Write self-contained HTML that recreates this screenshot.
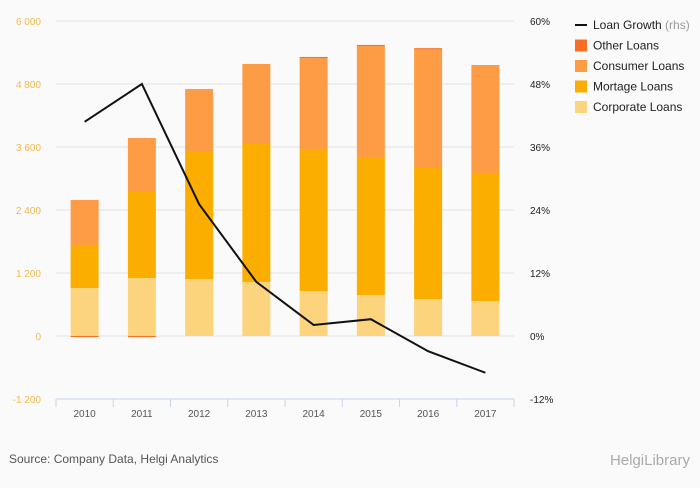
<!DOCTYPE html>
<html><head><meta charset="utf-8"><style>
body{margin:0;background:#fafafa;font-family:"Liberation Sans",sans-serif;}
svg text{font-family:"Liberation Sans",sans-serif;}
</style></head><body>
<svg id="c" width="700" height="483" xmlns="http://www.w3.org/2000/svg">
<rect width="700" height="483" fill="#fafafa"/>
</svg>
<script>
const categories=['2010','2011','2012','2013','2014','2015','2016','2017'];
const corporate=[914,1105,1086,1029,857,781,705,667];
const mortgage=[820,1657,2438,2647,2705,2629,2514,2438];
const consumer=[857,1009,1181,1505,1733,2114,2248,2057];
const other=[-20,-20,0,0,20,20,15,0];
const growth=[40.8,48,25.1,10.3,2.1,3.2,-2.9,-7];
const leftTicks=[-1200,0,1200,2400,3600,4800,6000];
const rightTicks=['-12%','0%','12%','24%','36%','48%','60%'];
const NS='http://www.w3.org/2000/svg',svg=document.getElementById('c');
const x0=56,x1=514,yTop=21,yBot=399,cw=(x1-x0)/categories.length;
const y=v=>yBot-(v+1200)/7200*(yBot-yTop);
const yr=p=>yBot-(p+12)/72*(yBot-yTop);
const cx=i=>x0+cw*(i+0.5);
function mk(t,a,p){const e=document.createElementNS(NS,t);for(const k in a)e.setAttribute(k,a[k]);(p||svg).appendChild(e);return e;}
leftTicks.forEach((v,i)=>{
 const g=mk('line',{x1:x0,x2:x1,y1:y(v),y2:y(v),stroke:'#e3e3e3','stroke-width':1});
 
 
 const t=mk('text',{x:41,y:y(v)+4,'text-anchor':'end','font-size':10,fill:'#f2b84b'});t.textContent=v===0?'0':v.toLocaleString('en').replace(',',' ');
 
 
 const r=mk('text',{x:530,y:y(v)+4,'font-size':10,fill:'#222'});r.textContent=rightTicks[i];
 
 
});
const bw=28;
categories.forEach((c,i)=>{
 const segs=[[corporate[i],'#fdd47e','corporate'],[mortgage[i],'#fbae00','mortgage'],[consumer[i],'#fe9c45','consumer']];
 let base=0;
 segs.forEach(s=>{const r=mk('rect',{x:cx(i)-bw/2,y:y(base+s[0]),width:bw,height:y(base)-y(base+s[0]),fill:s[1]});
  
  
  base+=s[0];});
 const o=other[i];
 if(o!==0){const top=o>0?base+o:0,bot=o>0?base:o;const r=mk('rect',{x:cx(i)-bw/2,y:y(top),width:bw,height:Math.max(1,y(bot)-y(top)),fill:'#f96d24'});
  
  }
 const t=mk('text',{x:cx(i),y:417,'text-anchor':'middle','font-size':10,fill:'#555'});t.textContent=c;
 
 
 const tk=mk('line',{x1:x0+cw*i,x2:x0+cw*i,y1:yBot,y2:yBot+8,stroke:'#c8d4ea'});
 
 
});
const tk=mk('line',{x1:x1,x2:x1,y1:yBot,y2:yBot+8,stroke:'#c8d4ea'});


const ax=mk('line',{x1:x0,x2:x1,y1:yBot,y2:yBot,stroke:'#c8d4ea'});


const pl=mk('polyline',{points:growth.map((g,i)=>cx(i)+','+yr(g)).join(' '),fill:'none',stroke:'#111','stroke-width':2});


const leg=[['Loan Growth','#111',true],['Other Loans','#f96d24'],['Consumer Loans','#fe9c45'],['Mortage Loans','#fbae00'],['Corporate Loans','#fdd47e']];
leg.forEach((l,i)=>{const yy=25+i*20.5;
 const m=l[2]?mk('rect',{x:575,y:yy-1,width:12,height:2,fill:l[1]}):mk('rect',{x:575,y:yy-6,width:12,height:12,fill:l[1]});
 
 
 const t=mk('text',{x:593,y:yy+4,'font-size':12,fill:'#222'});t.textContent=l[0];
 if(l[2]){const s=mk('tspan',{fill:'#999'},t);s.textContent=' (rhs)';}
 
 
});
const src=mk('text',{x:9,y:463,'font-size':12,fill:'#555'});src.textContent='Source: Company Data, Helgi Analytics';


const br=mk('text',{x:690,y:465,'text-anchor':'end','font-size':15,fill:'#aaa'});br.textContent='HelgiLibrary';


</script>
</body></html>
